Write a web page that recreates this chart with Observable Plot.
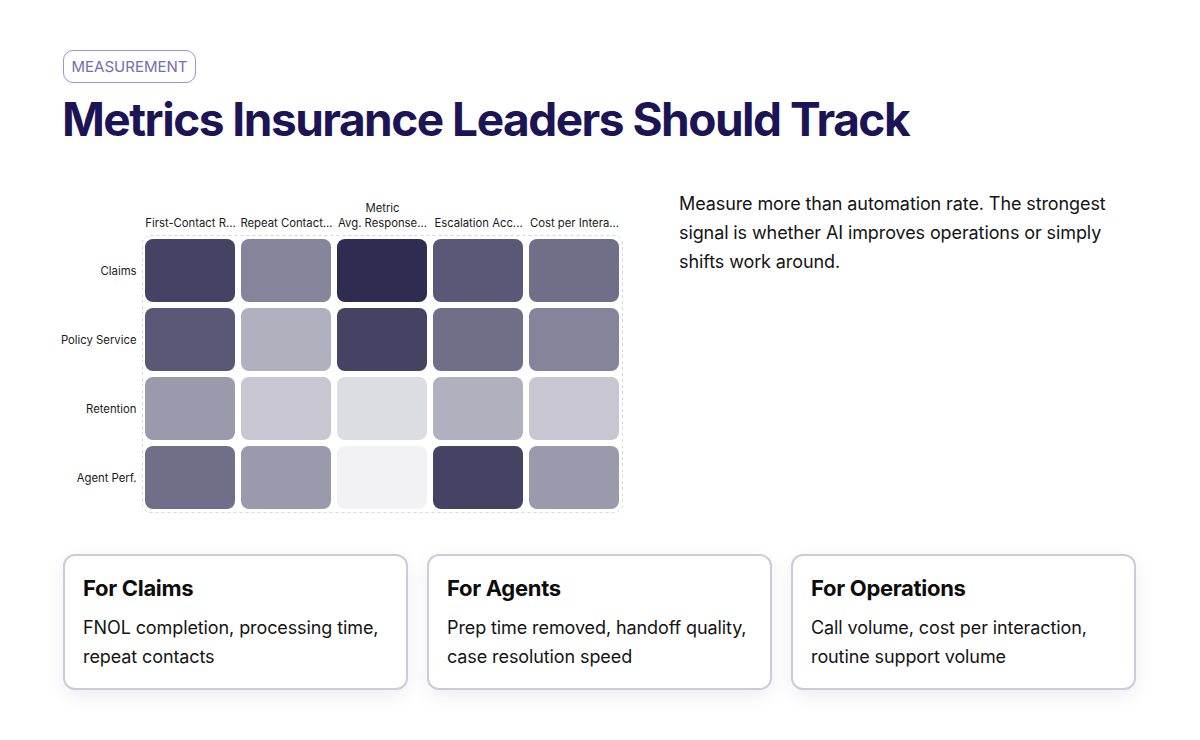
<!DOCTYPE html>
<html>
<head>
<meta charset="utf-8">
<script src="https://cdn.jsdelivr.net/npm/d3@7"></script>
<script src="https://cdn.jsdelivr.net/npm/@observablehq/plot@0.6"></script>
<style>
  html, body { margin: 0; padding: 0; background: #ffffff; }
  body { width: 1200px; height: 740px; position: relative; overflow: hidden; font-family: Inter, "Noto Sans", sans-serif; }
  .badge { position: absolute; left: 63px; top: 50px; width: 131px; height: 31px; border: 1.5px solid #9a94cf; border-radius: 10px;
           color: #746cb4; font-size: 15px; line-height: 31px; text-align: center; letter-spacing: 0px; }
  h1 { position: absolute; left: 62px; top: 89px; margin: 0; font-size: 46px; font-weight: 700; color: #1d1456; letter-spacing: -1.5px; line-height: 60px; white-space: nowrap; }
  #chart { position: absolute; left: 43px; top: 195px; }
  .lede { position: absolute; left: 679px; top: 189px; width: 440px; font-size: 18px; line-height: 29px; color: #141414; margin: 0; letter-spacing: -0.1px; }
  .card { position: absolute; top: 554px; width: 341px; height: 132px; border: 2px solid #cdcbd9; border-radius: 12px; background: #fff;
          box-shadow: 0 6px 18px rgba(40, 30, 90, 0.08); }
  .card h3 { position: absolute; left: 18px; top: 19px; margin: 0; font-size: 22px; font-weight: 700; color: #0d0d0d; letter-spacing: -0.3px; }
  .card p { position: absolute; left: 18px; top: 57px; margin: 0; width: 310px; font-size: 18px; line-height: 29px; color: #141414; letter-spacing: -0.1px; }
</style>
</head>
<body>
<div class="badge">MEASUREMENT</div>
<h1>Metrics Insurance Leaders Should Track</h1>
<div id="chart"></div>
<p class="lede">Measure more than automation rate. The strongest signal is whether AI improves operations or simply shifts work around.</p>
<div class="card" style="left:63px"><h3>For Claims</h3><p>FNOL completion, processing time, repeat contacts</p></div>
<div class="card" style="left:427px"><h3>For Agents</h3><p>Prep time removed, handoff quality, case resolution speed</p></div>
<div class="card" style="left:791px"><h3>For Operations</h3><p>Call volume, cost per interaction, routine support volume</p></div>
<script>
const metrics = ["First-Contact Resolution", "Repeat Contact Rate", "Avg. Response Time", "Escalation Accuracy", "Cost per Interaction"];
const metricTickLabels = ["First-Contact R...", "Repeat Contact...", "Avg. Response...", "Escalation Acc...", "Cost per Intera..."];
const areas = ["Claims", "Policy Service", "Retention", "Agent Perf."];
const claimsScores = [9, 6, 10, 8, 7];
const policyServiceScores = [8, 4, 9, 7, 6];
const retentionScores = [5, 3, 2, 4, 3];
const agentPerfScores = [7, 5, 1, 9, 5];

const seriesByArea = [claimsScores, policyServiceScores, retentionScores, agentPerfScores];
const table = [];
areas.forEach((area, i) => {
  metrics.forEach((metric, j) => table.push({area, metric, score: seriesByArea[i][j]}));
});
const tickLabel = new Map(metrics.map((m, i) => [m, metricTickLabels[i]]));

const chart = Plot.plot({
  width: 581,
  height: 327,
  marginLeft: 99,
  marginRight: 2,
  marginTop: 40,
  marginBottom: 10,
  style: {fontFamily: "Inter, 'Noto Sans', sans-serif", fontSize: "11.3px", color: "#1a1a1a", background: "transparent"},
  x: {domain: metrics, padding: 0, axis: "top", tickSize: 0, tickPadding: 9, label: "Metric", labelAnchor: "center", labelOffset: 32,
      tickFormat: d => tickLabel.get(d)},
  y: {domain: areas, padding: 0, tickSize: 0, tickPadding: 6, label: null},
  color: {type: "linear", domain: [1, 10], range: ["#f2f2f5", "#2f2c52"], interpolate: "rgb"},
  marks: [
    Plot.frame({stroke: "#d6d6dc", strokeDasharray: "3,3", rx: 8}),
    Plot.cell(table, {x: "metric", y: "area", fill: "score", inset: 3, rx: 8})
  ]
});
document.getElementById("chart").appendChild(chart);
</script>
</body>
</html>
